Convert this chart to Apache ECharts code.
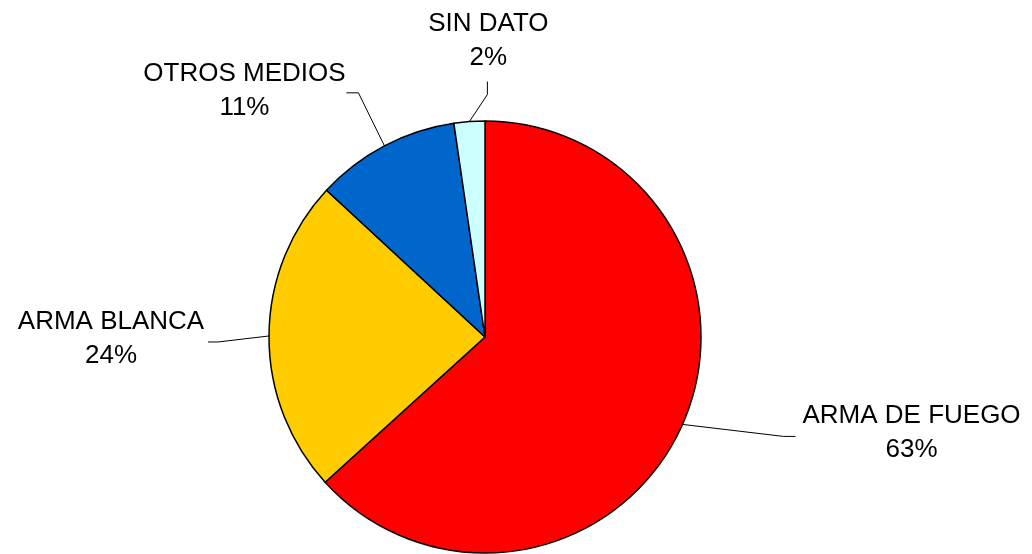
<!DOCTYPE html>
<html><head><meta charset="utf-8">
<script src="https://cdn.jsdelivr.net/npm/echarts@6/dist/echarts.min.js"></script>
<style>html,body{margin:0;padding:0;background:#fff}#c{width:1032px;height:554px}</style>
</head><body><div id="c"></div>
<script>
// ---- data ----
const categories = ['ARMA DE FUEGO', 'ARMA BLANCA', 'OTROS MEDIOS', 'SIN DATO'];
const values = [63.2, 23.6, 10.8, 2.3];

// ---- style / layout ----
const colors = ['#FF0000', '#FFCC00', '#0066CC', '#CCFFFF'];
const CENTER = [485, 337];
const RADIUS = 216;
const START_ANGLE = 90;
// leader lines: offsets relative to the slice's outer mid point
const LEADERS = [
  { bend: [101, 12],  tail: [12, 0],  label: [116, -4] },
  { bend: [-51, 6],   tail: [-10, 0], label: [-97, -3] },
  { bend: [-26, -53], tail: [-12, 0], label: [-102, -2] },
  { bend: [18, -27],  tail: [0, -13], label: [1, -41] }
];

const total = values.reduce((a, b) => a + b, 0);
function edgePoint(i) {
  let before = 0;
  for (let k = 0; k < i; k++) before += values[k];
  const mid = (before + values[i] / 2) / total * 360;
  const ang = (START_ANGLE - mid) * Math.PI / 180;
  return [CENTER[0] + RADIUS * Math.cos(ang), CENTER[1] - RADIUS * Math.sin(ang)];
}

const chart = echarts.init(document.getElementById('c'), null, { renderer: 'canvas' });
chart.setOption({
  animation: false,
  backgroundColor: '#fff',
  series: [{
    type: 'pie',
    center: CENTER,
    radius: RADIUS,
    startAngle: START_ANGLE,
    clockwise: true,
    avoidLabelOverlap: false,
    emphasis: { disabled: true },
    data: categories.map((n, i) => ({ name: n, value: values[i], itemStyle: { color: colors[i] } })),
    itemStyle: { borderColor: '#000', borderWidth: 1.5 },
    label: {
      show: true,
      position: 'outside',
      formatter: p => p.name + '\n' + Math.round(p.percent) + '%',
      color: '#000',
      fontSize: 26,
      lineHeight: 34,
      fontFamily: '"Liberation Sans", Arial, sans-serif',
      overflow: 'none'
    },
    labelLine: { show: true, length: 15, length2: 15, lineStyle: { color: '#000', width: 1 } },
    labelLayout: function (p) {
      const i = p.dataIndex;
      const L = LEADERS[i];
      const e = edgePoint(i);
      const b = [e[0] + L.bend[0], e[1] + L.bend[1]];
      const t = [b[0] + L.tail[0], b[1] + L.tail[1]];
      return {
        x: t[0] + L.label[0],
        y: t[1] + L.label[1],
        align: 'center',
        verticalAlign: 'middle',
        labelLinePoints: [e, b, t]
      };
    }
  }]
});
</script>
</body></html>
